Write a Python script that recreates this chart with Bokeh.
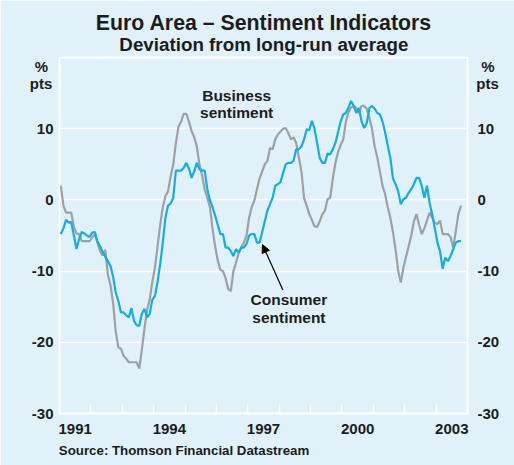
from bokeh.plotting import figure
from bokeh.models import (Range1d, LinearAxis, FixedTicker, Label, Arrow, NormalHead,
                          ColumnDataSource, GridBox, Column)
from bokeh.embed import file_html
from bokeh.resources import INLINE

# ---------------- data (monthly, Jan 1991 - Oct 2003) ----------------
start_year = 1991
business = [
    2.0, -0.8, -1.8, -1.8, -1.8, -3.8, -4.7, -4.8, -5.8, -5.8, -5.8, -5.8,
    -5.3, -4.8, -6.0, -7.2, -7.8, -7.0, -10.5, -12.0, -14.5, -18.5, -20.7, -20.9,
    -21.9, -22.3, -22.8, -22.8, -22.8, -22.8, -23.7, -21.0, -18.0, -15.5, -14.0, -11.5,
    -9.5, -6.5, -3.5, -1.0, 0.5, 1.2, 3.3, 5.0, 8.0, 10.3, 11.0, 12.1,
    12.1, 11.0, 9.7, 8.8, 7.5, 5.0, 3.5, 1.5, 0.3, -1.0, -4.0, -6.5,
    -8.5, -9.8, -10.0, -11.0, -12.5, -12.8, -10.0, -8.8, -7.5, -6.7, -6.0, -5.0,
    -2.5, -1.0, -0.1, 1.5, 3.0, 4.0, 5.0, 5.5, 7.3, 7.1, 8.5, 9.2,
    9.6, 10.0, 10.1, 9.4, 8.5, 8.8, 8.0, 6.0, 4.0, 0.3, -0.8, -2.0,
    -2.8, -3.7, -3.8, -3.0, -2.0, -1.5, 0.1, 0.3, 3.0, 5.2, 6.7, 7.7,
    8.5, 11.0, 12.3, 13.0, 13.2, 12.9, 12.2, 13.2, 13.2, 12.8, 11.5, 10.0,
    7.5, 6.0, 4.0, 2.0, 0.8, -1.0, -2.5, -4.5, -7.0, -10.0, -11.6, -9.5,
    -8.0, -6.5, -5.0, -3.0, -2.0, -3.5, -4.8, -4.0, -2.9, -1.8, -2.5, -3.2,
    -3.4, -2.9, -4.8, -4.8, -4.8, -5.2, -6.7, -4.5, -2.0, -0.8,
]
consumer = [
    -4.8, -4.0, -2.8, -3.2, -3.1, -5.0, -6.9, -5.5, -4.5, -4.7, -5.0, -5.2,
    -4.6, -4.5, -5.8, -6.5, -7.3, -8.0, -8.6, -9.3, -10.8, -13.0, -14.2, -15.8,
    -15.8, -16.2, -16.5, -15.2, -17.0, -17.6, -17.7, -16.0, -15.3, -16.5, -16.0, -14.0,
    -13.5, -11.5, -9.0, -6.0, -2.5, -0.8, -0.5, 0.3, 4.1, 4.1, 4.1, 4.5,
    5.2, 4.4, 3.1, 4.0, 5.2, 4.3, 4.1, 4.1, 1.5, 0.0, -1.0, -2.2,
    -3.5, -4.8, -4.8, -6.7, -6.7, -7.2, -7.9, -6.9, -7.4, -6.7, -6.7, -6.2,
    -5.0, -4.8, -4.8, -6.0, -6.0, -4.5, -3.0, -1.5, -0.6, 0.3, 2.0, 2.2,
    2.5, 3.8, 5.0, 5.2, 5.2, 5.5, 7.1, 7.1, 7.5, 8.5, 9.9, 9.8,
    11.1, 10.0, 8.0, 5.9, 5.2, 5.2, 6.5, 6.4, 7.1, 8.0, 9.5, 11.0,
    12.0, 12.2, 13.0, 13.9, 13.2, 12.2, 12.9, 11.0, 10.1, 10.8, 12.9, 13.2,
    12.8, 12.2, 12.0, 11.0, 9.5, 7.6, 5.9, 3.0, 2.2, 1.2, -0.6, 0.1,
    0.3, 1.0, 1.5, 2.2, 3.1, 3.1, 2.0, 0.3, 2.0, -0.4, -2.0, -4.0,
    -6.0, -7.2, -9.7, -8.1, -8.6, -7.9, -7.0, -6.0, -5.8, -5.8,
]
year_labels = ["1991", "1994", "1997", "2000", "2003"]
y_ticks = [-30, -20, -10, 0, 10]

# time axis: mid-month positions in fractional years
dates = [start_year + (i + 0.5) / 12.0 for i in range(len(business))]
src = ColumnDataSource(data=dict(date=dates, business=business, consumer=consumer[:len(dates)]))

BG = "#e0f1f9"
BLUE = "#12aee8"
GREY = "#9ca1a5"
TXT = "#1c1c1c"
FONT = "Liberation Sans"
W, H = 514, 465

p = figure(frame_width=408, frame_height=356,
           min_border_left=59, min_border_right=47, min_border_top=57, min_border_bottom=52,
           x_range=Range1d(1991, 2004), y_range=Range1d(-30, 20),
           output_backend="svg", toolbar_location=None,
           background_fill_color=BG, border_fill_color=BG)
p.outline_line_color = "white"
p.outline_line_width = 2

# grid
p.xgrid.grid_line_color = None
p.ygrid.grid_line_color = "white"
p.ygrid.grid_line_width = 1.5

# x axis: labels mid-year, ticks at year boundaries
label_pos = [int(s) + 0.5 for s in year_labels]
xa = p.xaxis[0]
xa.ticker = FixedTicker(ticks=label_pos, minor_ticks=list(range(1992, 2004)))
xa.major_label_overrides = {pos: s for pos, s in zip(label_pos, year_labels)}
xa.axis_line_color = None
xa.major_tick_line_color = None
xa.major_tick_in = 0
xa.major_tick_out = 0
xa.minor_tick_line_color = "white"
xa.minor_tick_line_width = 1.5
xa.minor_tick_in = 9
xa.minor_tick_out = 0
xa.major_label_standoff = 10
xa.major_label_text_font = FONT
xa.major_label_text_font_style = "bold"
xa.major_label_text_font_size = "15px"
xa.major_label_text_color = TXT

# y axes (left and right)
ya = p.yaxis[0]
ra = LinearAxis()
p.add_layout(ra, "right")
for ax in (ya, ra):
    ax.ticker = FixedTicker(ticks=y_ticks)
    ax.major_label_overrides = {t: str(t) for t in y_ticks}
    ax.axis_line_color = None
    ax.major_tick_line_color = None
    ax.major_tick_in = 0
    ax.major_tick_out = 0
    ax.minor_tick_line_color = None
    ax.minor_tick_in = 0
    ax.minor_tick_out = 0
    ax.major_label_text_font = FONT
    ax.major_label_text_font_style = "bold"
    ax.major_label_text_font_size = "15px"
    ax.major_label_text_color = TXT
ya.major_label_standoff = 6
ra.major_label_standoff = 10

# lines
p.line("date", "business", source=src, line_color=GREY, line_width=2.2)
p.line("date", "consumer", source=src, line_color=BLUE, line_width=2.2)

def lab(fig, x, y, text, size, align="center"):
    fig.add_layout(Label(x=x, y=y, text=text, text_font=FONT, text_font_style="bold",
                         text_font_size=size, text_color=TXT, text_align=align,
                         text_baseline="alphabetic"))

# in-plot annotations
lab(p, 1996.645, 14.6, "Business", "15.5px")
lab(p, 1996.645, 12.25, "sentiment", "15.5px")
lab(p, 1998.31, -13.95, "Consumer", "15.5px")
lab(p, 1998.31, -16.45, "sentiment", "15.5px")
p.add_layout(Arrow(end=NormalHead(size=8, fill_color="black", line_color="black"),
                   x_start=1998.117, y_start=-12.64, x_end=1997.467, y_end=-6.28,
                   line_color="black", line_width=1.2))

# transparent overlay (pixel coordinates) for titles, units and source
o = figure(width=W, height=H, x_range=Range1d(0, W), y_range=Range1d(H, 0),
           min_border=0, output_backend="svg", toolbar_location=None,
           x_axis_type=None, y_axis_type=None)
o.background_fill_color = None
o.border_fill_color = None
o.outline_line_color = None
o.grid.visible = False

lab(o, 263.4, 22.4, "Euro Area \u2013 Sentiment Indicators", "21.3px")
lab(o, 263.4, 43.5, "Deviation from long-run average", "18.8px")
lab(o, 41.0, 65.8, "%", "15px")
lab(o, 40.5, 82.6, "pts", "15px")
lab(o, 487.5, 65.8, "%", "15px")
lab(o, 487.0, 82.6, "pts", "15px")
lab(o, 58.3, 450.2, "Source: Thomson Financial Datastream", "13.3px", align="left")

layout = GridBox(children=[(p, 0, 0), (Column(children=[o]), 0, 0)])

open("out.html", "w").write(file_html(layout, INLINE))
